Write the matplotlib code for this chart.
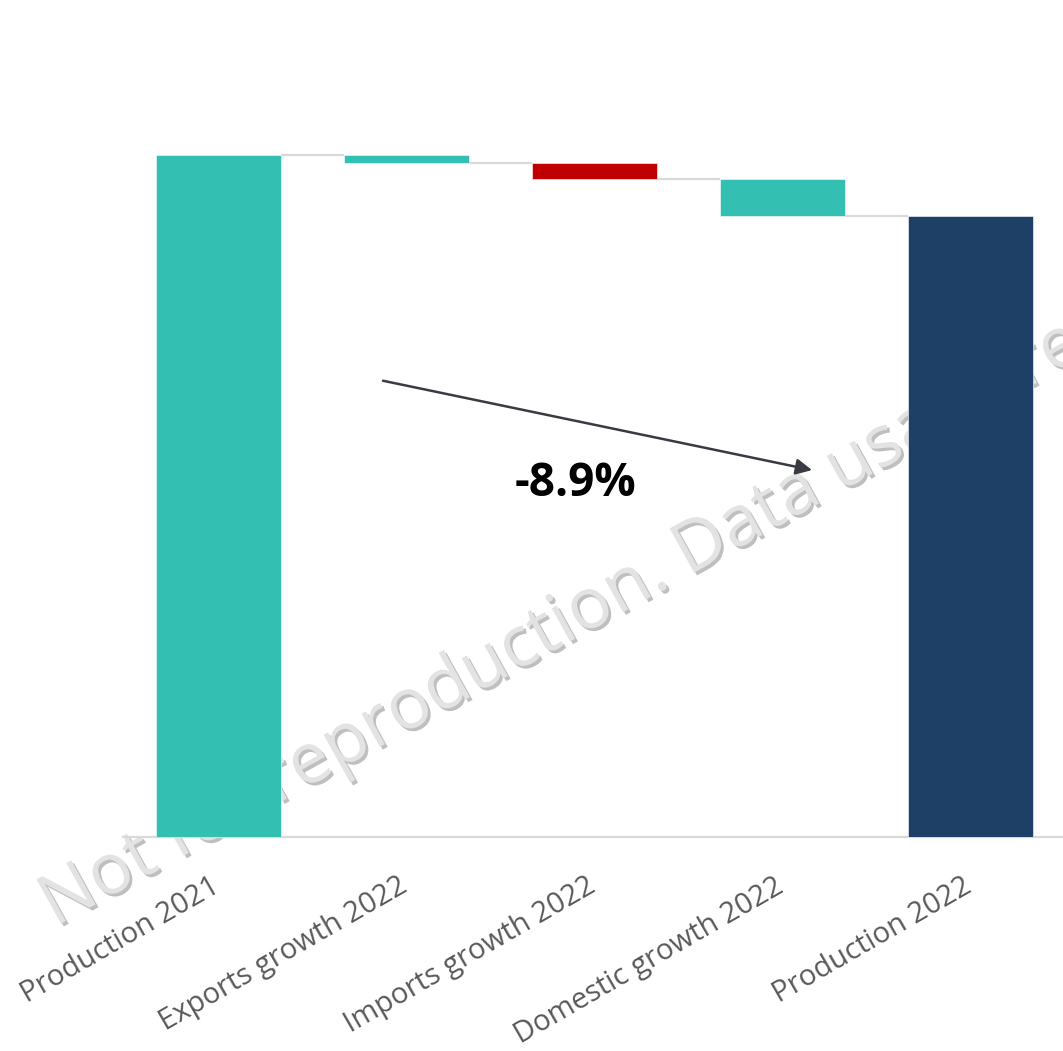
import matplotlib
matplotlib.use('Agg')
import matplotlib.pyplot as plt
import matplotlib.patheffects as pe
from matplotlib.transforms import ScaledTranslation
import numpy as np

# Waterfall data (index, production 2021 = 100).
categories = ['Production 2021', 'Exports growth 2022', 'Imports growth 2022',
              'Domestic growth 2022', 'Production 2022']
values = [100.0, -1.1, -2.4, -5.4, 91.1]
is_total = [True, False, False, False, True]
bar_colors = ['#33BFB1', '#33BFB1', '#C00000', '#33BFB1', '#1E3F66']
change_label = '-8.9%'
watermark = 'Not for reproduction. Data usage restricted.'

W, H = 1063, 1051
fig = plt.figure(figsize=(W / 100, H / 100), dpi=100)
fig.patch.set_facecolor('white')

# Axes placed in pixel terms: left edge of axis line, baseline, top.
left, right, bottom, top = 123, 1063, 837, 60
ax = fig.add_axes([left / W, 1 - bottom / H, (right - left) / W, (bottom - top) / H])

# Watermark sits behind the bars.
fig.text(55 / W, 1 - 927 / H, watermark, rotation=29, rotation_mode='anchor',
         ha='left', va='baseline', fontsize=51, family='Open Sans',
         color='#e3e3e3', zorder=0,
         path_effects=[pe.withSimplePatchShadow(offset=(2, -2),
                                                shadow_rgbFace='#8c8c8c',
                                                alpha=0.55)])
ax.set_zorder(1)
ax.patch.set_alpha(0)

# Floating bar positions.
bottoms, heights = [], []
running = 0.0
for v, tot in zip(values, is_total):
    if tot:
        bottoms.append(0.0)
        heights.append(v)
        running = v
    else:
        new = running + v
        bottoms.append(min(running, new))
        heights.append(abs(v))
        running = new

x = np.arange(len(categories))
bar_w = 0.665
ax.bar(x + 0.01, heights, bottom=bottoms, width=bar_w, color=bar_colors,
       edgecolor='white', linewidth=0.4, zorder=3)

# Connector lines between consecutive bars.
levels = []
running = 0.0
for v, tot in zip(values, is_total):
    running = v if tot else running + v
    levels.append(running)
for i in range(len(x) - 1):
    ax.plot([x[i] + 0.01 + bar_w / 2, x[i + 1] + 0.01 - bar_w / 2],
            [levels[i], levels[i]],
            color='#d9d9d9', lw=1.6, zorder=2, solid_capstyle='butt')

ax.set_xlim(-0.5, len(x) - 0.5)
ax.set_ylim(0, 100 * (bottom - top) / 682)

for s in ['top', 'right', 'left']:
    ax.spines[s].set_visible(False)
ax.spines['bottom'].set_color('#d9d9d9')
ax.spines['bottom'].set_linewidth(1.6)
ax.set_yticks([])
ax.set_xticks(x)
ax.set_xticklabels(categories, rotation=30, rotation_mode='anchor',
                   ha='right', va='top', fontsize=21, family='Open Sans',
                   color='#595959')
ax.tick_params(axis='x', length=0, pad=25)
shift = ScaledTranslation(-0.07, 0, fig.dpi_scale_trans)
for lab in ax.get_xticklabels():
    lab.set_transform(lab.get_transform() + shift)

# Overall change arrow and label.
ax.annotate('', xy=(3.165, 53.8), xytext=(0.883, 66.9),
            arrowprops=dict(arrowstyle='-|>', color='#383b42', lw=1.8,
                            mutation_scale=24, shrinkA=0, shrinkB=0),
            zorder=4)
ax.text(1.904, 51.9, change_label, ha='center', va='center', fontsize=33,
        fontweight='bold', family='Open Sans', color='black', zorder=4)

plt.savefig('out.png', dpi=100, facecolor='white')
